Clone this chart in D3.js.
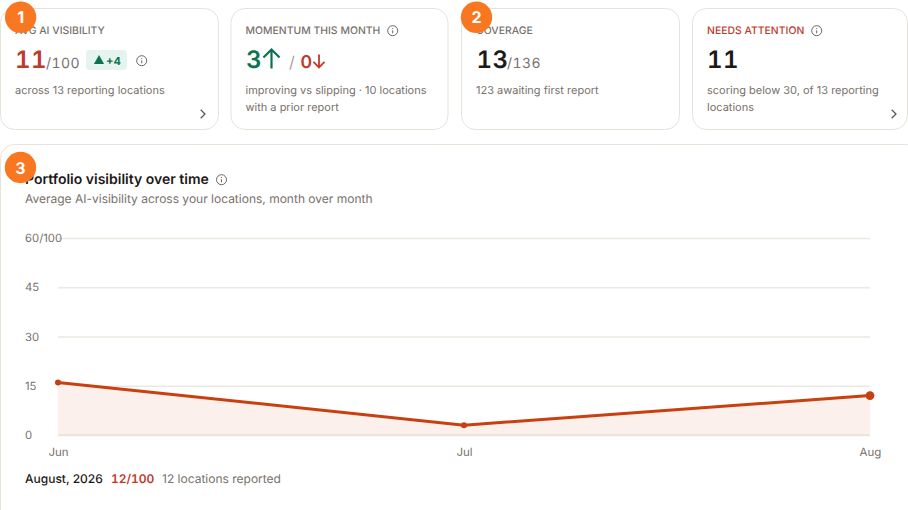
<!DOCTYPE html>
<html>
<head>
<meta charset="utf-8">
<script src="https://cdn.jsdelivr.net/npm/d3@7"></script>
<style>
  html, body { margin: 0; padding: 0; background: #fff; overflow: hidden; }
  svg { display: block; font-family: Inter, "Noto Sans", sans-serif; text-rendering: geometricPrecision; }
  .num { font-variant-numeric: tabular-nums; }
</style>
</head>
<body>
<div id="chart"></div>
<script>
// chart data
const months = ["Jun", "Jul", "Aug"];
const scores = [16, 3, 12];
const yTicks = [0, 15, 30, 45, 60];

// kpi cards
const cardTitles = ["AVG AI VISIBILITY", "MOMENTUM THIS MONTH", "COVERAGE", "NEEDS ATTENTION"];
const cardNotes = [
  ["across 13 reporting locations"],
  ["improving vs slipping · 10 locations", "with a prior report"],
  ["123 awaiting first report"],
  ["scoring below 30, of 13 reporting", "locations"]
];
const badges = ["1", "2", "3"];

const width = 908, height = 510;
const ink = "#1c1917", muted = "#78716c", border = "#e7e3da", red = "#c0392b", green = "#0b7350", line = "#c8400f";

const svg = d3.select("#chart").append("svg").attr("width", width).attr("height", height);

function label(x, y, str, size, fill, weight) {
  return svg.append("text").attr("x", x).attr("y", y)
    .style("font-size", size + "px").style("fill", fill).style("font-weight", weight || 400).text(str);
}

function card(x, y, w, h) {
  svg.append("rect").attr("x", x).attr("y", y).attr("width", w).attr("height", h)
    .attr("rx", 14).attr("fill", "#fff").attr("stroke", border).attr("stroke-width", 1);
}

function infoIcon(cx, cy) {
  const g = svg.append("g").attr("transform", `translate(${cx},${cy})`)
    .attr("fill", "none").attr("stroke", "#6b6660");
  g.append("circle").attr("r", 5).attr("stroke-width", 1);
  g.append("line").attr("y1", -0.4).attr("y2", 2.6).attr("stroke-width", 1);
  g.append("circle").attr("cy", -2.2).attr("r", 0.6).attr("fill", "#6b6660").attr("stroke", "none");
}

function chevron(cx, cy) {
  svg.append("path").attr("transform", `translate(${cx},${cy})`)
    .attr("d", "M-2.3,-4.2L2,0L-2.3,4.2").attr("fill", "none")
    .attr("stroke", "#57534e").attr("stroke-width", 1.2);
}

function arrow(cx, cy, size, dir, color, sw) {
  // dir -1 up, 1 down
  const p = `M0,${-dir * size}L0,${dir * size}M${-size * 0.85},${dir * size * 0.15}L0,${dir * size}L${size * 0.85},${dir * size * 0.15}`;
  svg.append("path").attr("transform", `translate(${cx},${cy})`).attr("d", p)
    .attr("fill", "none").attr("stroke", color).attr("stroke-width", sw);
}

// cards row
const cardX = [0.5, 231, 461.5, 692.5];
const cardW = [218, 217, 218, 215];
cardX.forEach((x, i) => {
  card(x, 8.5, cardW[i], 121);
  label(x + 14.5, 33.7, cardTitles[i], 10.4, i === 3 ? red : muted, 500).style("letter-spacing", "0.02px");
  cardNotes[i].forEach((t, j) => label(x + 14.5, 94 + j * 17, t, 11, muted));
});

// card 1 value
label(15, 68, "11", 24, red, 600).attr("class", "num").style("letter-spacing", "0.5px");
label(46, 68, "/100", 14, muted).attr("class", "num").style("letter-spacing", "0.4px");
svg.append("rect").attr("x", 86).attr("y", 50).attr("width", 41).attr("height", 20).attr("rx", 4).attr("fill", "#e6f4ef");
svg.append("path").attr("d", d3.symbol(d3.symbolTriangle, 45)).attr("transform", "translate(99,61)").attr("fill", green);
label(106, 64.5, "+4", 11, green, 700);
infoIcon(141.7, 60.7);
chevron(203, 114);

// card 2 value
label(246, 68, "3", 24, green, 600);
arrow(271.5, 59, 9.5, -1, green, 2.2);
label(289, 68, "/", 16, "#a8a29e");
label(300.5, 68, "0", 17.5, red, 600);
arrow(319, 61, 6.5, 1, red, 1.8);
infoIcon(392.7, 30.7);

// card 3 value
label(476.5, 68, "13", 24, ink, 600).attr("class", "num").style("letter-spacing", "0.5px");
label(507, 68, "/136", 14, muted).attr("class", "num").style("letter-spacing", "0.4px");

// card 4 value
label(707, 68, "11", 24, ink, 600).attr("class", "num").style("letter-spacing", "0.5px");
infoIcon(816.7, 30.7);
chevron(894, 114);

// chart panel, runs off the right and bottom edge
card(0.5, 144.5, 920, 400);
label(25, 184, "Portfolio visibility over time", 14, ink, 600);
infoIcon(221.5, 179.7);
label(25, 203, "Average AI-visibility across your locations, month over month", 12, muted);

const x = d3.scalePoint().domain(months).range([58, 870]);
const y = d3.scaleLinear().domain([0, 60]).range([435, 238]);

const yAxis = svg.append("g").attr("transform", "translate(58,0)")
  .call(d3.axisLeft(y).tickValues(yTicks).tickSize(-812).tickPadding(21)
    .tickFormat(d => d === 60 ? "60/100" : d));
yAxis.select(".domain").remove();
yAxis.selectAll(".tick line").attr("stroke", "#ece9e2").attr("stroke-width", 1.5);
yAxis.selectAll(".tick text").attr("x", -33).attr("text-anchor", "start")
  .style("font-family", "Inter, sans-serif").style("font-size", "11.3px").style("fill", muted);

const xAxis = svg.append("g").attr("transform", "translate(0,435)")
  .call(d3.axisBottom(x).tickSize(0).tickPadding(12.5));
xAxis.select(".domain").remove();
xAxis.selectAll(".tick text").style("font-family", "Inter, sans-serif")
  .style("font-size", "11.5px").style("fill", muted);

const area = d3.area().x((d, i) => x(months[i])).y0(y(0)).y1(d => y(d));
svg.append("path").datum(scores).attr("d", area).attr("fill", "#fbf0eb");

// zero line shows on top of the fill
svg.append("line").attr("x1", x(months[0])).attr("x2", x(months[2])).attr("y1", y(0)).attr("y2", y(0))
  .attr("stroke", "#e9e2db").attr("stroke-width", 1.5);

const path = d3.line().x((d, i) => x(months[i])).y(d => y(d));
svg.append("path").datum(scores).attr("d", path).attr("fill", "none").attr("stroke", line).attr("stroke-width", 3);

svg.selectAll("circle.pt").data(scores).enter().append("circle").attr("class", "pt")
  .attr("cx", (d, i) => x(months[i])).attr("cy", d => y(d))
  .attr("r", (d, i) => i === months.length - 1 ? 4.4 : 3).attr("fill", line);

// selected month readout
label(25, 483, "August, 2026", 12, ink, 500);
label(111, 483, "12/100", 12, red, 600).attr("class", "num");
label(162, 483, "12 locations reported", 12, muted);

// numbered orange badges sit on top of the cards
const badgeX = [20.6, 476.5, 20.5];
const badgeY = [17.3, 17.3, 167.5];
badges.forEach((b, i) => {
  svg.append("circle").attr("cx", badgeX[i]).attr("cy", badgeY[i]).attr("r", 15.7).attr("fill", "#f97720");
  label(badgeX[i], badgeY[i] + 6, b, 16, "#fff", 700).attr("text-anchor", "middle");
});
</script>
</body>
</html>
